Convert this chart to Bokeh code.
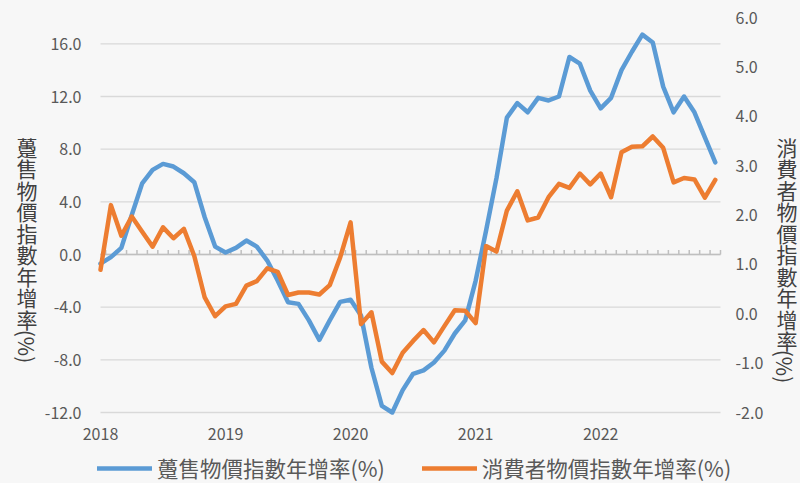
import math
from bokeh.plotting import figure
from bokeh.models import Range1d, Legend, LegendItem
from bokeh.core.properties import value
from bokeh.embed import file_html
from bokeh.resources import INLINE

# ---------------- data ----------------
months = list(range(60))  # Jan 2018 .. Dec 2022
wpi = [-0.7, -0.2, 0.5, 3.0, 5.4, 6.43, 6.88, 6.68, 6.17, 5.49, 2.83, 0.6,
       0.15, 0.5, 1.06, 0.6, -0.46, -1.98, -3.63, -3.75, -5.0, -6.48, -5.0, -3.6,
       -3.44, -4.63, -8.6, -11.5, -12.0, -10.3, -9.06, -8.8, -8.2, -7.3, -6.0, -5.0,
       -2.0, 1.8, 5.8, 10.4, 11.5, 10.8, 11.9, 11.7, 12.0, 15.0, 14.5, 12.45,
       11.1, 11.9, 14.0, 15.4, 16.7, 16.1, 12.75, 10.8, 12.0, 10.8, 8.9, 7.0]
cpi = [0.89, 2.20, 1.58, 1.97, 1.66, 1.36, 1.75, 1.53, 1.72, 1.17, 0.33, -0.05,
       0.15, 0.20, 0.57, 0.66, 0.92, 0.85, 0.38, 0.43, 0.43, 0.39, 0.58, 1.14,
       1.85, -0.21, 0.03, -0.97, -1.20, -0.79, -0.55, -0.33, -0.58, -0.25, 0.07, 0.06,
       -0.19, 1.37, 1.26, 2.09, 2.48, 1.89, 1.95, 2.36, 2.63, 2.55, 2.84, 2.62,
       2.84, 2.36, 3.27, 3.38, 3.39, 3.59, 3.36, 2.66, 2.75, 2.72, 2.35, 2.71]
year_ticks = [0, 12, 24, 36, 48]
year_labels = ["2018", "2019", "2020", "2021", "2022"]
left_ticks = [-12, -8, -4, 0, 4, 8, 12, 16]
right_ticks = [-2, -1, 0, 1, 2, 3, 4, 5, 6]
wpi_title = "躉售物價指數年增率(%)"
cpi_title = "消費者物價指數年增率(%)"

# ---------------- style / layout ----------------
FONT = "Noto Sans CJK TC"
BG = "#f7f7f7"
BLUE = "#5b9bd5"
ORANGE = "#ed7d31"
TICK_COLOR = "#595959"
TITLE_COLOR = "#404040"
GRID = "#d9d9d9"
AXIS = "#bfbfbf"

X_MIN, X_MAX = 0, 59.5
YL_MIN, YL_MAX = -12, 18
YR_MIN, YR_MAX = -2, 6

W, H = 800, 483
# plotting area in page pixels
A_LEFT, A_RIGHT, A_TOP, A_BOTTOM = 100, 720, 17, 412
PXM = (A_RIGHT - A_LEFT) / (X_MAX - X_MIN)
PYL = (A_BOTTOM - A_TOP) / (YL_MAX - YL_MIN)
PYR = (A_BOTTOM - A_TOP) / (YR_MAX - YR_MIN)

p = figure(width=W, height=H, output_backend="svg", toolbar_location=None,
           x_axis_type=None, y_axis_type=None,
           x_range=Range1d(X_MIN - A_LEFT / PXM, X_MAX + (W - A_RIGHT) / PXM),
           y_range=Range1d(YL_MIN - (H - A_BOTTOM) / PYL, YL_MAX + A_TOP / PYL),
           min_border=0, background_fill_color=BG, border_fill_color=BG,
           outline_line_color=None)
p.grid.visible = False
p.extra_y_ranges = {"cpi": Range1d(YR_MIN - (H - A_BOTTOM) / PYR, YR_MAX + A_TOP / PYR)}


def dx(px):
    return X_MIN + (px - A_LEFT) / PXM


def dy(py):
    return YL_MIN + (A_BOTTOM - py) / PYL


# horizontal gridlines
p.segment(x0=[X_MIN] * len(left_ticks), x1=[X_MAX] * len(left_ticks),
          y0=left_ticks, y1=left_ticks, line_color=GRID, line_width=1.3)

# category axis crossing at 0, with month tick marks
p.segment(x0=[X_MIN], x1=[X_MAX], y0=[0], y1=[0], line_color=AXIS, line_width=1.6)
tick_x = [m + 0.5 for m in months]
p.segment(x0=tick_x, y0=[0] * len(tick_x), x1=tick_x, y1=[0.35] * len(tick_x),
          line_color=AXIS, line_width=1.5)

# tick labels
fmt = lambda v: "%.1f" % v
p.text(x=[dx(81)] * len(left_ticks), y=left_ticks, text=[fmt(v) for v in left_ticks],
       text_font=value(FONT), text_font_size="16px", text_color=TICK_COLOR,
       text_align="right", text_baseline="middle")
p.text(x=[dx(735)] * len(right_ticks), y=right_ticks, text=[fmt(v) for v in right_ticks],
       text_font=value(FONT), text_font_size="16px", text_color=TICK_COLOR,
       text_align="left", text_baseline="middle", y_range_name="cpi")
p.text(x=year_ticks, y=[dy(433)] * len(year_ticks), text=year_labels,
       text_font=value(FONT), text_font_size="16px", text_color=TICK_COLOR,
       text_align="center", text_baseline="middle")


# stacked vertical axis titles (CJK upright, "(%)" turned clockwise)
def vertical_title(text, cx, top_center, pct_center, pct_x, step=21.5):
    body = list(text.replace("(%)", ""))
    p.text(x=[dx(cx)] * len(body), y=[dy(top_center + k * step) for k in range(len(body))],
           text=body, text_font=value(FONT), text_font_size="21px", text_color=TITLE_COLOR,
           text_align="center", text_baseline="middle")
    p.text(x=[dx(pct_x)], y=[dy(pct_center)], text=["(%)"], angle=-math.pi / 2,
           text_font=value(FONT), text_font_size="21px", text_color=TITLE_COLOR,
           text_align="center", text_baseline="middle")


vertical_title(wpi_title, 26.5, 146, 346, 26.5)
vertical_title(cpi_title, 786.5, 146, 366, 784)

# data lines
r_wpi = p.line(months, wpi, line_color=BLUE, line_width=4.5,
               line_join="round", line_cap="round")
r_cpi = p.line(months, cpi, line_color=ORANGE, line_width=4.5,
               line_join="round", line_cap="round", y_range_name="cpi")

legend = Legend(items=[LegendItem(label=wpi_title, renderers=[r_wpi]),
                       LegendItem(label=cpi_title, renderers=[r_cpi])],
                orientation="horizontal", location=(97, 0),
                label_text_font=FONT, label_text_font_size="21.5px",
                label_text_color=TICK_COLOR, glyph_width=55, glyph_height=26,
                label_height=26, label_standoff=5, spacing=37, padding=0, margin=0,
                border_line_color=None, background_fill_alpha=0)
p.add_layout(legend)

html = file_html(p, INLINE)
html = html.replace("</head>",
                    "<style>html,body{background:%s;margin:0;overflow:hidden;}</style></head>" % BG, 1)
open("out.html", "w").write(html)
